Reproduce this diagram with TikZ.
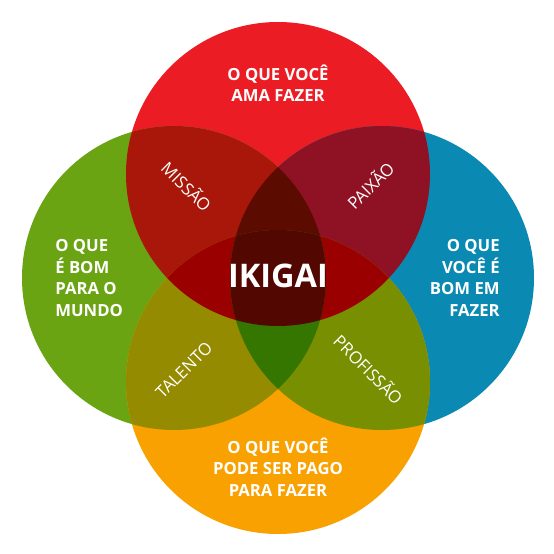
\documentclass[tikz,border=0pt]{standalone}
\usepackage{fontspec}
\setmainfont{Open Sans}
\usepackage{tikz}
\usetikzlibrary{positioning}

\definecolor{loveRed}{HTML}{EC1C24}
\definecolor{worldGreen}{HTML}{6AA412}
\definecolor{skillBlue}{HTML}{0A89B2}
\definecolor{payOrange}{HTML}{F9A100}
\definecolor{missaoRed}{HTML}{A8170A}
\definecolor{paixaoRed}{HTML}{8E1224}
\definecolor{talentoOlive}{HTML}{958B00}
\definecolor{profOlive}{HTML}{778F00}
\definecolor{tipRed}{HTML}{9B0000}
\definecolor{lensTop}{HTML}{5C0B00}
\definecolor{lensBottom}{HTML}{347600}
\definecolor{coreRed}{HTML}{520800}

\newcommand{\rad}{152}

\begin{document}
\begin{tikzpicture}[x=0.02cm, y=0.02cm,
    outer/.style={text=white, inner sep=0pt, font=\fontsize{9.5}{12.2}\selectfont\bfseries},
    cross/.style={text=white, inner sep=0pt, font=\fontsize{9.6}{11}\selectfont},
    core/.style={text=white, font=\fontsize{18.5}{20}\selectfont\bfseries}]

% Frame
\useasboundingbox[fill=white] (-278,-276) rectangle (276,278);

% Circle centres
\coordinate (cR) at (0,104);
\coordinate (cO) at (0,-104);
\coordinate (cG) at (-104,0);
\coordinate (cB) at (104,0);

% Single circles
\fill[loveRed] (cR) circle (\rad);
\fill[worldGreen] (cG) circle (\rad);
\fill[skillBlue] (cB) circle (\rad);
\fill[payOrange] (cO) circle (\rad);

% Pairs
\begin{scope}
  \clip (cR) circle (\rad);
  \fill[missaoRed] (cG) circle (\rad);
  \fill[paixaoRed] (cB) circle (\rad);
\end{scope}
\begin{scope}
  \clip (cO) circle (\rad);
  \fill[talentoOlive] (cG) circle (\rad);
  \fill[profOlive] (cB) circle (\rad);
\end{scope}

% Triples
\begin{scope}
  \clip (cR) circle (\rad);
  \clip (cO) circle (\rad);
  \fill[tipRed] (cG) circle (\rad);
  \fill[tipRed] (cB) circle (\rad);
\end{scope}
\begin{scope}
  \clip (cG) circle (\rad);
  \clip (cB) circle (\rad);
  \fill[lensTop] (cR) circle (\rad);
  \fill[lensBottom] (cO) circle (\rad);
  % Centre
  \clip (cR) circle (\rad);
  \fill[coreRed] (cO) circle (\rad);
\end{scope}

% Outer texts
\node[outer, align=center] (love) at (0,194.5) {O QUE VOCÊ\\AMA FAZER};
\node[outer, align=left, anchor=west] (world) at (-223,0) {O QUE\\É BOM\\PARA O\\MUNDO};
\node[outer, align=right, anchor=east] (skill) at (222,0) {O QUE\\VOCÊ É\\BOM EM\\FAZER};
\node[outer, align=center] (paid) at (0,-189) {O QUE VOCÊ\\PODE SER PAGO\\PARA FAZER};

% Overlap texts
\node[cross, rotate=-45] (missao) at (-91,92) {MISSÃO};
\node[cross, rotate=45] (paixao) at (92,93) {PAIXÃO};
\node[cross, rotate=45] (talento) at (-94,-92) {TALENTO};
\node[cross, rotate=-45] (profissao) at (91,-91) {PROFISSÃO};

% Centre
\node[core] (ikigai) at (0,2) {IKIGAI};

\end{tikzpicture}
\end{document}
